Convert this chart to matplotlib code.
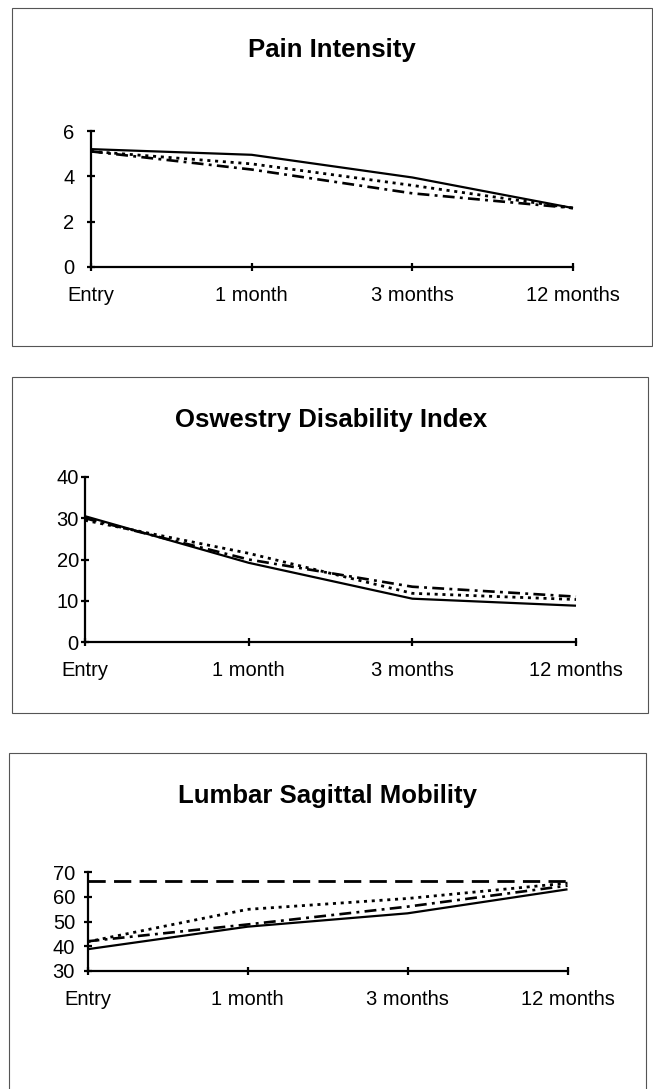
import matplotlib
matplotlib.use("Agg")
import matplotlib.pyplot as plt
from matplotlib.patches import Rectangle

plt.rcParams["font.family"] = ["Liberation Sans", "DejaVu Sans"]

# ---------------------------------------------------------------- data ------
timepoints = ["Entry", "1 month", "3 months", "12 months"]

pain_solid = [5.2, 4.95, 3.95, 2.6]
pain_dotted = [5.1, 4.55, 3.6, 2.6]
pain_dashdot = [5.1, 4.3, 3.25, 2.6]

odi_solid = [30.5, 19.2, 10.5, 8.8]
odi_dotted = [29.5, 21.5, 11.8, 10.3]
odi_dashdot = [30.0, 20.0, 13.4, 11.0]

lumbar_solid = [38.8, 47.9, 53.3, 63.0]
lumbar_dotted = [41.8, 54.9, 59.3, 65.5]
lumbar_dashdot = [42.0, 48.8, 56.0, 64.5]
lumbar_norm = [66.4, 66.4, 66.4, 66.4]

pain_ticks = [0, 2, 4, 6]
odi_ticks = [0, 10, 20, 30, 40]
lumbar_ticks = [30, 40, 50, 60, 70]

# ---------------------------------------------------------------- figure ----
W, H = 653, 1089
fig = plt.figure(figsize=(W / 100, H / 100), dpi=100, facecolor="white")

AX_LW = 1.6
SOLID = dict(color="black", lw=1.6, ls="-", solid_capstyle="butt")
DOTTED = dict(color="black", lw=2.0, ls=(0, (1.1, 1.7)), dash_capstyle="butt")
DASHDOT = dict(color="black", lw=1.9, ls=(0, (4.5, 2.0, 1.1, 2.0)),
               dash_capstyle="butt")
LONGDASH = dict(color="black", lw=2.0, ls=(0, (6.2, 3.0)), dash_capstyle="butt")


def frame(x0, x1, y0, y1):
    # thin grey panel border, in pixel coordinates
    fig.patches.append(Rectangle((x0 / W, 1 - y1 / H), (x1 - x0) / W,
                                 (y1 - y0) / H, transform=fig.transFigure,
                                 facecolor="none", edgecolor="#555555",
                                 linewidth=0.8, zorder=0))


def panel(left, right, top, bottom, ylim, yticks, ypad):
    ax = fig.add_axes([left / W, 1 - bottom / H, (right - left) / W,
                       (bottom - top) / H])
    ax.set_facecolor("none")
    ax.set_xlim(0, 3)
    ax.set_ylim(*ylim)
    ax.set_xticks(range(len(timepoints)))
    ax.set_xticklabels(timepoints)
    ax.set_yticks(yticks)
    for sp in ("top", "right"):
        ax.spines[sp].set_visible(False)
    for sp in ("left", "bottom"):
        ax.spines[sp].set_linewidth(AX_LW)
        ax.spines[sp].set_color("black")
    ax.tick_params(axis="both", direction="inout", length=6, width=AX_LW,
                   labelsize=14.5, colors="black")
    ax.tick_params(axis="x", pad=11)
    ax.tick_params(axis="y", pad=ypad)
    return ax


x = list(range(len(timepoints)))

# ---------------------------------------------------------------- pain ------
frame(12, 652, 8, 346)
fig.text(332 / W, 1 - 57 / H, "Pain Intensity", ha="center", va="baseline",
         fontsize=18.5, fontweight="bold")
ax1 = panel(91, 573, 131, 267, (0, 6), pain_ticks, 9)
ax1.plot(x, pain_dashdot, clip_on=False, **DASHDOT)
ax1.plot(x, pain_dotted, clip_on=False, **DOTTED)
ax1.plot(x, pain_solid, clip_on=False, **SOLID)

# ---------------------------------------------------------------- ODI -------
frame(12, 648, 377, 713)
fig.text(331 / W, 1 - 427 / H, "Oswestry Disability Index", ha="center",
         va="baseline", fontsize=18.5, fontweight="bold")
ax2 = panel(85, 576, 477, 642, (0, 40), odi_ticks, 1.5)
ax2.plot(x, odi_dashdot, clip_on=False, **DASHDOT)
ax2.plot(x, odi_dotted, clip_on=False, **DOTTED)
ax2.plot(x, odi_solid, clip_on=False, **SOLID)

# ---------------------------------------------------------------- lumbar ----
frame(9, 646, 753, 1200)
fig.text(328 / W, 1 - 803 / H, "Lumbar Sagittal Mobility", ha="center",
         va="baseline", fontsize=18.5, fontweight="bold")
ax3 = panel(87.5, 567.5, 872, 971, (30, 70), lumbar_ticks, 6)
ax3.plot(x, lumbar_norm, clip_on=False, **LONGDASH)
ax3.plot(x, lumbar_dashdot, clip_on=False, **DASHDOT)
ax3.plot(x, lumbar_dotted, clip_on=False, **DOTTED)
ax3.plot(x, lumbar_solid, clip_on=False, **SOLID)

fig.savefig("out.png", dpi=100, facecolor="white")
